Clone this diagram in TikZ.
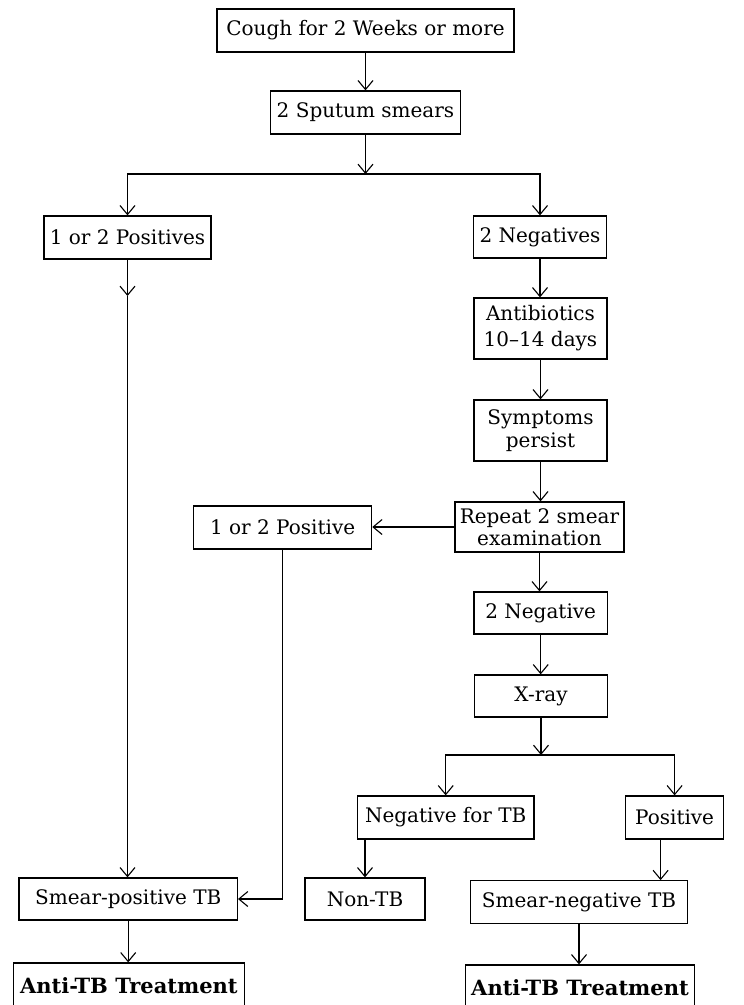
\documentclass[tikz,border=0pt]{standalone}
\usepackage{fontspec}
\setmainfont{DejaVu Serif}
\usetikzlibrary{arrows.meta}
\begin{document}
\begin{tikzpicture}[x=1pt,y=-1pt,
  box/.style={draw, line width=1.3pt, inner sep=0pt, align=center, font=\fontsize{20}{26}\selectfont},
  boldbox/.style={box, font=\fontsize{21}{26}\selectfont\bfseries},
  conn/.style={line width=1.1pt, -{Straight Barb[length=9pt,width=15pt,line width=1.1pt]}}]
\useasboundingbox (0,0) rectangle (744,1005);
\node[box, minimum width=297pt, minimum height=43pt] (cough) at (365.5,30.5) {Cough for 2 Weeks or more};
\node[box, minimum width=190pt, minimum height=43pt] (sputum) at (365.5,112.5) {2 Sputum smears};
\node[box, minimum width=167pt, minimum height=43pt] (pos1) at (127.5,237.5) {1 or 2 Positives};
\node[box, minimum width=133pt, minimum height=42pt] (neg2) at (540,237) {2 Negatives};
\node[box, minimum width=133pt, minimum height=61pt, font=\fontsize{20}{26}\selectfont] (anti) at (540.5,328.5) {Antibiotics\\10--14 days};
\node[box, minimum width=133pt, minimum height=61pt, font=\fontsize{20}{23}\selectfont] (sympt) at (540.5,430.5) {Symptoms\\persist};
\node[box, minimum width=169pt, minimum height=50pt, font=\fontsize{20}{21.6}\selectfont] (repeat) at (539.5,527) {Repeat 2 smear\\examination};
\node[box, minimum width=178pt, minimum height=43pt] (pos2) at (282.6,527.5) {1 or 2 Positive};
\node[box, minimum width=133.5pt, minimum height=42pt] (neg2b) at (540.7,613) {2 Negative};
\node[box, minimum width=133pt, minimum height=42pt] (xray) at (541,696) {X-ray};
\node[box, minimum width=176.6pt, minimum height=43pt] (negTB) at (445.7,817.5) {Negative for TB};
\node[box, minimum width=98.3pt, minimum height=43pt] (positive) at (674.6,817.5) {Positive};
\node[box, minimum width=120pt, minimum height=42pt] (nonTB) at (365,899) {Non-TB};
\node[box, minimum width=216.4pt, minimum height=43pt] (smearneg) at (579,902.3) {Smear-negative TB};
\node[box, minimum width=218.3pt, minimum height=42pt] (smearpos) at (128.2,899) {Smear-positive TB};
\node[boldbox, minimum width=231pt, minimum height=46pt] (antiL) at (128.9,986) {Anti-TB Treatment};
\node[boldbox, minimum width=229pt, minimum height=46pt] (antiR) at (580,988) {Anti-TB Treatment};
% connectors
\coordinate (s1) at (365.5,174);
\coordinate (m1) at (127.5,296);
\coordinate (s2) at (541,755);
\draw[conn] (cough.south) -- (cough.south |- sputum.north);
\draw[conn] (sputum.south) -- (s1);
\draw[conn] (s1) -| (pos1.north);
\draw[conn] (s1) -| (neg2.north);
\draw[conn] (pos1.south) -- (m1);
\draw[conn] (m1) -- (m1 |- smearpos.north);
\draw[conn] (neg2.south) -- (neg2.south |- anti.north);
\draw[conn] (anti.south) -- (anti.south |- sympt.north);
\draw[conn] (sympt.south) -- (sympt.south |- repeat.north);
\draw[conn] (repeat.west) -- (repeat.west -| pos2.east);
\draw[conn] (repeat.south) -- (repeat.south |- neg2b.north);
\draw[conn] (neg2b.south) -- (neg2b.south |- xray.north);
\draw[conn] (pos2.south) |- (smearpos.east);
\draw[conn] (xray.south) -- (s2);
\draw[conn] (s2) -| (negTB.north);
\draw[conn] (s2) -| (positive.north);
\draw[conn] (nonTB.north |- negTB.south) -- (nonTB.north);
\draw[conn] ([xshift=-14pt]positive.south) -- ([xshift=-14pt]positive.south |- smearneg.north);
\draw[conn] (smearneg.south) -- (smearneg.south |- antiR.north);
\draw[conn] (smearpos.south) -- (smearpos.south |- antiL.north);
\end{tikzpicture}
\end{document}
